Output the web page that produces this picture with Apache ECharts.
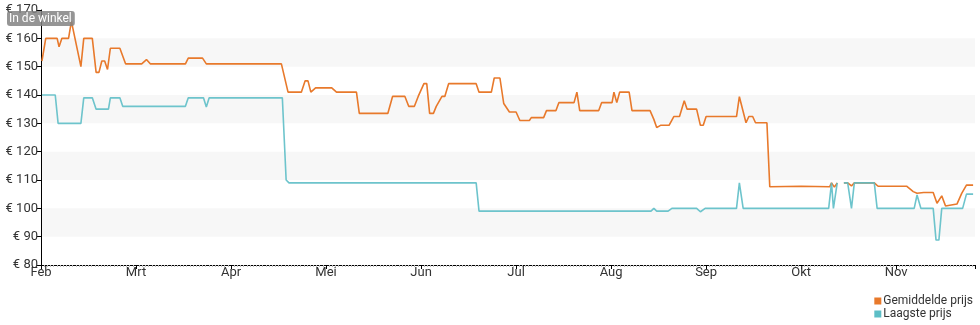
<!DOCTYPE html>
<html>
<head>
<meta charset="utf-8">
<script src="https://cdn.jsdelivr.net/npm/echarts@6/dist/echarts.min.js"></script>
<style>html,body{margin:0;padding:0;background:#fff}#c{width:980px;height:325px}</style>
</head>
<body>
<div id="c"></div>
<script>
// x = months since 1 Feb (0 = Feb, 1 = Mrt, ...)
var monthLabels = ['Feb','Mrt','Apr','Mei','Jun','Jul','Aug','Sep','Okt','Nov'];
var seriesNames = ['Gemiddelde prijs','Laagste prijs'];
var avgPrice = [
 [0.01,152],[0.05,160],[0.17,160],[0.19,157],[0.22,160],[0.29,160],[0.32,166],[0.42,150],[0.45,160],[0.54,160],
 [0.58,148],[0.61,148],[0.64,152],[0.67,152],[0.70,149],[0.73,156.5],[0.83,156.5],[0.89,151],[1.06,151],[1.11,152.5],
 [1.15,151],[1.52,151],[1.55,153],[1.70,153],[1.74,151],[2.53,151],[2.60,141],[2.74,141],[2.78,145],[2.81,145],
 [2.84,141],[2.89,142.5],[3.06,142.5],[3.11,141],[3.32,141],[3.35,133.5],[3.65,133.5],[3.70,139.5],[3.83,139.5],[3.87,136],
 [3.93,136],[3.97,139.5],[3.99,139.5],[4.03,144],[4.06,144],[4.09,133.5],[4.13,133.5],[4.16,136],[4.18,136],[4.22,139.5],
 [4.25,139.5],[4.29,144],[4.58,144],[4.61,141],[4.74,141],[4.77,146],[4.83,146],[4.87,137],[4.89,137],[4.93,134],
 [5.00,134],[5.04,131],[5.14,131],[5.16,132],[5.29,132],[5.32,134.5],[5.42,134.5],[5.45,137.3],[5.61,137.3],[5.64,141],
 [5.67,134.5],[5.87,134.5],[5.90,137.3],[6.01,137.3],[6.03,141],[6.06,137.3],[6.09,141],[6.19,141],[6.22,134.5],[6.41,134.5],
 [6.45,131.4],[6.48,128.5],[6.52,129.3],[6.61,129.3],[6.66,132.4],[6.72,132.4],[6.77,138],[6.80,135],[6.90,135],[6.94,129.3],
 [6.97,129.3],[7.00,132.4],[7.32,132.4],[7.35,139.4],[7.42,130.2],[7.45,132.4],[7.49,132.4],[7.52,130.2],[7.64,130.2],[7.67,107.6],
 [8.00,107.8],[8.30,107.6],[8.32,109],[8.35,107.5],[8.38,109],[8.41,null],[8.45,109],[8.49,109],[8.53,107.9],[8.56,109],
 [8.77,109],[8.81,107.8],[9.11,107.8],[9.18,105.9],[9.22,105.3],[9.29,105.6],[9.39,105.6],[9.43,101.8],[9.45,101.5],[9.48,104.4],
 [9.52,100.8],[9.64,101.5],[9.69,105.3],[9.74,108.2],[9.81,108.2]
];
var lowPrice = [
 [0.01,140],[0.15,140],[0.18,130],[0.42,130],[0.45,139],[0.54,139],[0.58,135],[0.71,135],[0.73,139],[0.83,139],
 [0.86,136],[1.52,136],[1.55,139],[1.71,139],[1.74,135.8],[1.77,139],[2.54,139],[2.58,110],[2.61,109],[4.58,109],
 [4.61,99],[6.42,99],[6.45,100],[6.48,99],[6.60,99],[6.64,100],[6.90,100],[6.94,98.8],[6.99,100],[7.32,100],
 [7.35,109],[7.39,100],[8.29,100],[8.32,109],[8.34,100],[8.38,109],[8.41,null],[8.45,109],[8.49,109],[8.53,100],
 [8.56,109],[8.77,109],[8.80,100],[9.19,100],[9.22,104.7],[9.26,100],[9.39,100],[9.42,88.8],[9.45,88.8],[9.48,100],
 [9.70,100],[9.74,105],[9.81,105]
];
var yTicks = {min:80, max:170, step:10};

var chart = echarts.init(document.getElementById('c'), null, {renderer:'canvas'});
var font = 'Roboto, "Noto Sans", sans-serif';
chart.setOption({
  animation:false,
  textStyle:{fontFamily:font},
  title:{
    text:'In de winkel', left:7, top:11, padding:[1,3,1,2],
    backgroundColor:'rgba(130,130,130,0.85)', borderRadius:3,
    textStyle:{color:'#fff', fontSize:12, fontWeight:'normal', fontFamily:font, lineHeight:13}
  },
  legend:{
    data:seriesNames, orient:'vertical', right:2, top:290, itemGap:1,
    icon:'rect', itemWidth:7, itemHeight:7,
    textStyle:{color:'#333', fontSize:12, fontFamily:font, padding:[0,0,0,-3]}
  },
  grid:{left:41, right:5, top:10, bottom:60, containLabel:false},
  xAxis:{
    type:'value', min:0, max:9.83, interval:1,
    axisLine:{lineStyle:{color:'#000', width:1}},
    axisTick:{show:true, length:4, lineStyle:{color:'#000'}},
    minorTick:{show:true, splitNumber:30, length:2, lineStyle:{color:'#bbb'}},
    splitLine:{show:false},
    axisLabel:{color:'#333', fontSize:13, margin:1, fontFamily:font,
      formatter:function(v){ var i=Math.round(v); return Math.abs(v-i)<1e-6 && monthLabels[i] ? monthLabels[i] : ''; }}
  },
  yAxis:{
    type:'value', min:yTicks.min, max:yTicks.max, interval:yTicks.step,
    axisLine:{show:true, lineStyle:{color:'#000', width:1}},
    axisTick:{show:true, length:4, lineStyle:{color:'#000'}},
    splitLine:{show:false},
    splitArea:{show:true, areaStyle:{color:['rgba(255,255,255,0)','#f7f7f7']}},
    axisLabel:{color:'#333', fontSize:13, margin:3, fontFamily:font,
      formatter:function(v){ return '€ ' + v; }}
  },
  series:[
    {name:seriesNames[0], type:'line', data:avgPrice, showSymbol:false, symbol:'none',
     connectNulls:false, color:'#e8792b', lineStyle:{width:1.6, color:'#e8792b'}, z:2},
    {name:seriesNames[1], type:'line', data:lowPrice, showSymbol:false, symbol:'none',
     connectNulls:false, color:'#5dbec6', lineStyle:{width:1.6, color:'#5dbec6', opacity:0.9}, z:3}
  ]
});
</script>
</body>
</html>
